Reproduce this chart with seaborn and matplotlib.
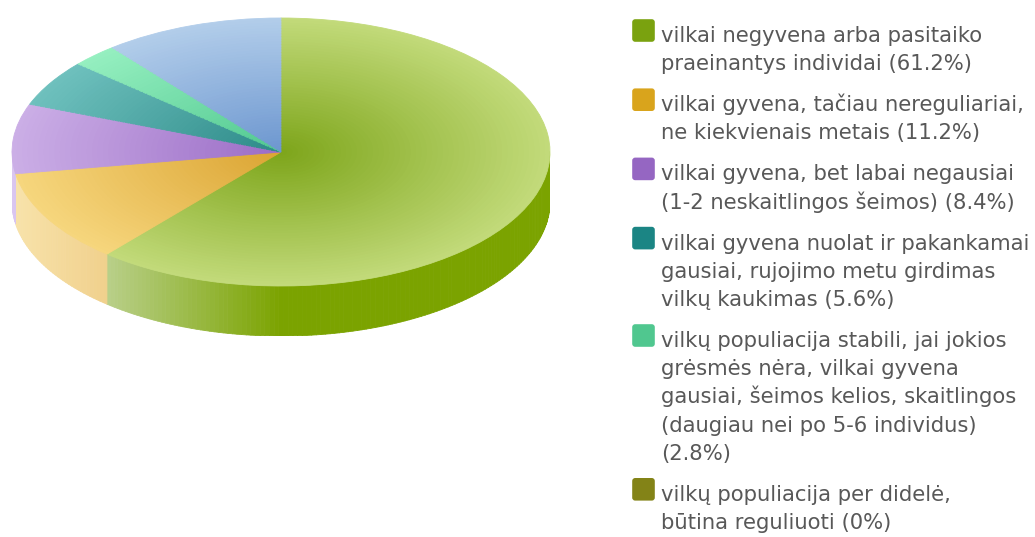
import numpy as np
import matplotlib
matplotlib.use('Agg')
import matplotlib.pyplot as plt
import seaborn as sns
from matplotlib.colors import to_rgb
from matplotlib.collections import PolyCollection
from matplotlib.patches import FancyBboxPatch

sns.set_theme(style='white')
plt.rcParams['font.family'] = ['DejaVu Sans']

# =========================
#  DATA
# =========================

labels = [
    'vilkai negyvena arba pasitaiko\npraeinantys individai (61.2%)',
    'vilkai gyvena, tačiau nereguliariai,\nne kiekvienais metais (11.2%)',
    'vilkai gyvena, bet labai negausiai\n(1-2 neskaitlingos šeimos) (8.4%)',
    'vilkai gyvena nuolat ir pakankamai\ngausiai, rujojimo metu girdimas\nvilkų kaukimas (5.6%)',
    'vilkų populiacija stabili, jai jokios\ngrėsmės nėra, vilkai gyvena\ngausiai, šeimos kelios, skaitlingos\n(daugiau nei po 5-6 individus)\n(2.8%)',
    'vilkų populiacija per didelė,\nbūtina reguliuoti (0%)',
]
shares = [61.2, 11.2, 8.4, 5.6, 2.8, 0.0]
# light blue slice, its legend entry is cut off in the source picture
unlisted_share = 10.8

# =========================
#  STYLE
# =========================

key_colors = ['#7aa20f', '#d9a41c', '#9566c2', '#1b8584', '#50c78f', '#838317']
rim_colors = ['#c2da7a', '#f6d67d', '#cbaee6', '#6ec0bd', '#95efc0', '#a5a545', '#b2cdea']
core_colors = ['#7da51a', '#dba432', '#9b6cc6', '#2c8a88', '#50c890', '#7f7f14', '#6c96cf']
side_pale = ['#dae8d4', '#f8e3ab', '#dac6f0', '#8fd0cf', '#a8f0cc', '#a0a040', '#c8dcf2']
side_dark = ['#7ba300', '#e2ae55', '#9a6cc8', '#2a8a88', '#48c088', '#808010', '#6a96d0']

W, H = 1035, 537
cx, cy, rx, ry, depth = 281, 152, 269, 134, 50
text_color = '#585858'


def mix(c1, c2, t):
    a, b = np.array(to_rgb(c1)), np.array(to_rgb(c2))
    return tuple(a + (b - a) * t)


# =========================
#  3D PIE
# =========================

def draw_pie(fig, values):
    d = depth / ry
    ax = fig.add_axes([(cx - rx) / W, 1 - (cy + ry + depth) / H, 2 * rx / W, (2 * ry + depth) / H])

    # side wall, only the front half is visible
    bounds = 90 - 360 * np.concatenate([[0], np.cumsum(values)]) / np.sum(values)
    polys, cols = [], []
    for i in range(len(values)):
        t1, t2 = bounds[i], bounds[i + 1]
        n = max(2, int(abs(t1 - t2)) + 2)
        th = np.radians(np.linspace(t1, t2, n))
        for a, b in zip(th[:-1], th[1:]):
            mid = (a + b) / 2
            if np.sin(mid) >= 0:
                continue
            polys.append([(np.cos(a), np.sin(a)), (np.cos(b), np.sin(b)),
                          (np.cos(b), np.sin(b) - d), (np.cos(a), np.sin(a) - d)])
            cols.append(mix(side_pale[i], side_dark[i], np.clip(np.cos(mid) + 1, 0, 1)))
    ax.add_collection(PolyCollection(polys, facecolors=cols, edgecolors=cols, linewidths=0.6, zorder=1))

    # top face, radial shading from the centre out to the rim
    for r in np.linspace(1, 0.02, 50):
        colors = [mix(core_colors[i], rim_colors[i], r) for i in range(len(values))]
        wedges, _ = ax.pie(values, radius=r, colors=colors, startangle=90, counterclock=False,
                           wedgeprops=dict(linewidth=0))
        for w, v, c in zip(wedges, values, colors):
            w.set_zorder(2)
            if v > 0:
                w.set_edgecolor(c)
                w.set_linewidth(0.6)

    ax.set_aspect('auto')
    ax.set_xlim(-1, 1)
    ax.set_ylim(-1 - d, 1)
    ax.axis('off')


# =========================
#  LEGEND
# =========================

def draw_legend(fig):
    x0 = 600
    lax = fig.add_axes([x0 / W, 0, (W - x0) / W, 1])
    lax.set_xlim(x0, W)
    lax.set_ylim(H, 0)
    lax.axis('off')

    line_step, entry_gap = 28.2, 41
    y = 42
    for label, color in zip(labels, key_colors):
        lax.add_patch(FancyBboxPatch((633, y - 22), 21, 21, boxstyle='round,pad=0.8,rounding_size=3',
                                     facecolor=color, edgecolor='none'))
        lines = label.split('\n')
        for k, line in enumerate(lines):
            lax.text(661, y, line, fontsize=15.2, color=text_color, va='baseline', ha='left')
            if k < len(lines) - 1:
                y += line_step
        y += entry_gap


def main():
    fig = plt.figure(figsize=(W / 100, H / 100), dpi=100)
    draw_pie(fig, shares + [unlisted_share])
    draw_legend(fig)
    fig.savefig('out.png', dpi=100)
    plt.close(fig)


if __name__ == '__main__':
    main()
